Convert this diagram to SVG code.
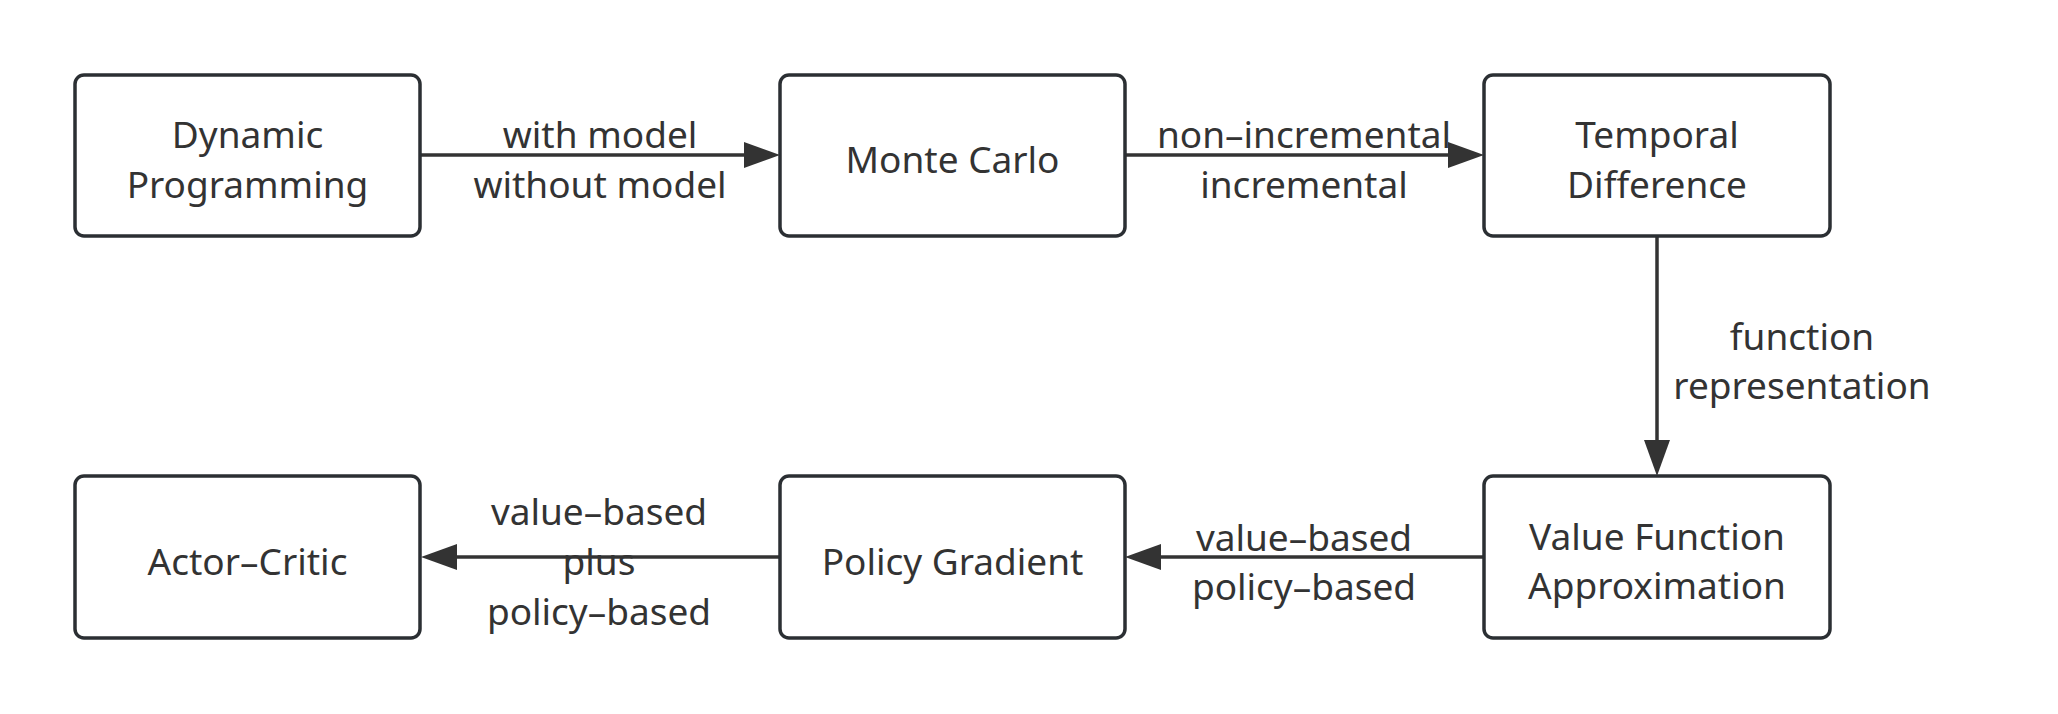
<svg xmlns="http://www.w3.org/2000/svg" width="2058" height="714" viewBox="0 0 2058 714">
<style>
.box{fill:#ffffff;stroke:#2b2f33;stroke-width:3.5}
.t{font-family:"Noto Sans","Open Sans",sans-serif;font-size:37px;fill:#333333;text-anchor:middle;dominant-baseline:central}
.c{stroke:#333333;stroke-width:3.5;fill:none}
.ah{fill:#333333}
</style>
<rect width="2058" height="714" fill="#ffffff"/>
<g id="connectors">
<line class="c" x1="421" y1="155" x2="746" y2="155"/>
<polygon class="ah" points="780,155 744,142 744,168"/>
<line class="c" x1="1126" y1="155" x2="1450" y2="155"/>
<polygon class="ah" points="1484,155 1448,142 1448,168"/>
<line class="c" x1="1657" y1="237" x2="1657" y2="442"/>
<polygon class="ah" points="1657,476 1644,440 1670,440"/>
<line class="c" x1="1483" y1="557" x2="1159" y2="557"/>
<polygon class="ah" points="1125,557 1161,544 1161,570"/>
<line class="c" x1="779" y1="557" x2="455" y2="557"/>
<polygon class="ah" points="421,557 457,544 457,570"/>
<text class="t" x="600" y="133">with model</text>
<text class="t" x="600" y="183">without model</text>
<text class="t" x="1304" y="133">non–incremental</text>
<text class="t" x="1304" y="183">incremental</text>
<text class="t" x="1802" y="335">function</text>
<text class="t" x="1802" y="384">representation</text>
<text class="t" x="1304" y="536">value–based</text>
<text class="t" x="1304" y="585">policy–based</text>
<text class="t" x="599" y="510">value–based</text>
<text class="t" x="599" y="560">plus</text>
<text class="t" x="599" y="610">policy–based</text>
</g>
<g id="dp">
<rect class="box" x="75" y="75" width="345" height="161" rx="9"/>
<text class="t" x="247.5" y="133">Dynamic</text>
<text class="t" x="247.5" y="183">Programming</text>
</g>
<g id="mc">
<rect class="box" x="780" y="75" width="345" height="161" rx="9"/>
<text class="t" x="952.5" y="158">Monte Carlo</text>
</g>
<g id="td">
<rect class="box" x="1484" y="75" width="346" height="161" rx="9"/>
<text class="t" x="1657" y="133">Temporal</text>
<text class="t" x="1657" y="183">Difference</text>
</g>
<g id="vfa">
<rect class="box" x="1484" y="476" width="346" height="162" rx="9"/>
<text class="t" x="1657" y="535">Value Function</text>
<text class="t" x="1657" y="584">Approximation</text>
</g>
<g id="pg">
<rect class="box" x="780" y="476" width="345" height="162" rx="9"/>
<text class="t" x="952.5" y="560">Policy Gradient</text>
</g>
<g id="ac">
<rect class="box" x="75" y="476" width="345" height="162" rx="9"/>
<text class="t" x="247.5" y="560">Actor–Critic</text>
</g>
</svg>
